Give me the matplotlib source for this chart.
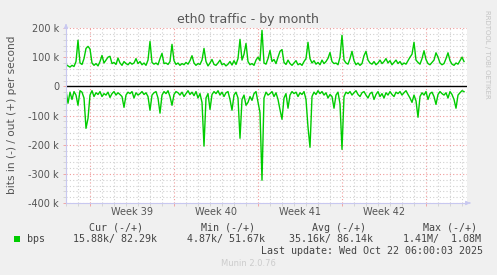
import matplotlib
matplotlib.use("Agg")
import matplotlib.pyplot as plt
import matplotlib.dates as mdates
import matplotlib.transforms as mtransforms
from matplotlib.ticker import MultipleLocator, FuncFormatter
from matplotlib.patches import Rectangle
import numpy as np
import pandas as pd

plt.rcParams.update({
    "font.family": "DejaVu Sans",
    "font.size": 7,
})

W, H = 497, 275

# 4-hour samples starting Sat 2025-09-20 00:00, values in kbit/s
start = "2025-09-20 00:00"
out_k = [
    75, 70, 66, 72, 68, 85, 158, 80, 75, 95, 130, 137, 128, 80, 72, 78, 70, 85, 106, 80,
    90, 100, 103, 78, 82, 75, 97, 80, 72, 85, 78, 74, 82, 76, 80, 95, 78, 85, 74, 80,
    72, 90, 154, 82, 76, 80, 74, 95, 113, 78, 80, 75, 85, 144, 88, 75, 80, 72, 78, 74,
    82, 76, 88, 105, 80, 72, 78, 75, 90, 130, 85, 70, 80, 92, 75, 72, 80, 90, 74, 78,
    70, 76, 85, 73, 88, 75, 95, 161, 90, 110, 147, 85, 74, 78, 72, 90, 100, 88, 192, 80,
    76, 95, 123, 85, 92, 78, 100, 120, 126, 82, 75, 90, 78, 72, 80, 88, 74, 78, 72, 85,
    95, 151, 95, 80, 88, 76, 82, 74, 90, 78, 85, 96, 116, 85, 78, 80, 74, 100, 175, 90,
    80, 76, 95, 120, 88, 74, 80, 72, 78, 105, 120, 90, 80, 76, 85, 74, 80, 90, 78, 85,
    95, 80, 88, 74, 82, 90, 78, 85, 74, 80, 76, 88, 100, 110, 151, 90, 82, 76, 95, 122,
    92, 78, 74, 82, 90, 115, 100, 80, 74, 78, 95, 115, 88, 76, 72, 80, 76, 88, 100, 85,
]
in_k = [
    15, 58, 20, 45, 18, 30, 65, 15, 20, 40, 144, 110, 30, 15, 35, 22, 28, 18, 35, 25,
    30, 20, 38, 25, 18, 30, 22, 28, 35, 72, 30, 20, 25, 18, 40, 22, 30, 25, 18, 28,
    22, 35, 82, 30, 22, 18, 40, 92, 30, 18, 25, 15, 35, 65, 28, 18, 22, 30, 20, 35,
    25, 15, 28, 20, 32, 18, 40, 25, 55, 205, 40, 25, 79, 28, 18, 25, 15, 30, 20, 35,
    22, 18, 45, 82, 30, 20, 40, 178, 45, 30, 65, 55, 35, 48, 25, 18, 55, 90, 322, 40,
    20, 30, 25, 18, 35, 22, 45, 80, 113, 40, 25, 75, 30, 18, 25, 20, 35, 22, 28, 18,
    45, 140, 209, 35, 20, 28, 15, 25, 18, 30, 22, 40, 28, 35, 75, 30, 20, 60, 216, 35,
    20, 25, 18, 30, 22, 15, 28, 35, 22, 18, 30, 40, 25, 20, 45, 28, 18, 35, 25, 40,
    22, 30, 18, 28, 35, 20, 25, 18, 30, 22, 15, 28, 40, 55, 30, 50, 106, 35, 22, 30,
    18, 45, 25, 20, 35, 62, 28, 18, 25, 30, 22, 40, 18, 28, 45, 75, 30, 22, 15, 18,
]
week_labels = ["Week 39", "Week 40", "Week 41", "Week 42"]
week_starts = ["2025-09-22", "2025-09-29", "2025-10-06", "2025-10-13"]
legend_head = ["Cur (-/+)", "Min (-/+)", "Avg (-/+)", "Max (-/+)"]
legend_vals = ["15.88k/ 82.29k", "4.87k/ 51.67k", "35.16k/ 86.14k", "1.41M/  1.08M"]

times = pd.date_range(start, periods=len(out_k), freq="4h")
out_bps = np.array(out_k) * 1000.0
in_bps = -np.array(in_k) * 1000.0

def fx(x):
    return x / W

def fy(y):
    return 1 - y / H

fig = plt.figure(figsize=(W / 100, H / 100), dpi=100, facecolor="#f0f0f0")
ax = fig.add_axes([fx(66), fy(203), 401 / W, 175 / H])
ax.set_facecolor("white")

green = "#00cc00"
ax.plot(times, out_bps, color=green, lw=1)
ax.plot(times, in_bps, color=green, lw=1)
ax.axhline(0, color="black", lw=1)

t0 = pd.Timestamp(start)
ax.set_xlim(t0, t0 + pd.Timedelta(hours=802))
ax.set_ylim(-400000, 200000)

ax.xaxis.set_major_locator(mdates.WeekdayLocator(byweekday=mdates.MO))
ax.xaxis.set_minor_locator(mdates.DayLocator())
ax.xaxis.set_major_formatter(plt.NullFormatter())
ax.yaxis.set_major_locator(MultipleLocator(100000))
ax.yaxis.set_minor_locator(MultipleLocator(20000))
ax.yaxis.set_major_formatter(FuncFormatter(lambda v, p: "0" if v == 0 else f"{int(v / 1000)} k"))

ax.set_axisbelow(True)
ax.grid(which="major", color="#f09a9a", ls=(0, (1, 2)), lw=0.8)
ax.grid(which="minor", color="#d0d0d0", ls=(0, (1, 2)), lw=0.8)

ax.tick_params(which="both", length=2, width=0.6, colors="#555555", labelsize=7, pad=3)
ax.tick_params(which="major", color="#f09a9a")
ax.tick_params(which="minor", color="#d0d0d0")

for s in ("top", "right"):
    ax.spines[s].set_visible(False)
for s in ("left", "bottom"):
    ax.spines[s].set_color("#c8c8f0")
    ax.spines[s].set_linewidth(0.8)

ax.annotate("", xy=(0, 1 + 7 / 175), xytext=(0, 1), xycoords="axes fraction",
            arrowprops=dict(arrowstyle="-|>", color="#c8c8f0", lw=0.8, mutation_scale=6))
ax.annotate("", xy=(1 + 6 / 401, 0), xytext=(1, 0), xycoords="axes fraction",
            arrowprops=dict(arrowstyle="-|>", color="#c8c8f0", lw=0.8, mutation_scale=6))

trans = mtransforms.blended_transform_factory(ax.transData, ax.transAxes)
for lab, ws in zip(week_labels, week_starts):
    mid = pd.Timestamp(ws) + pd.Timedelta(hours=84)
    ax.text(mid, -9 / 175, lab, transform=trans, ha="center", va="center",
            fontsize=7, color="#555555")

fig.text(fx(248), fy(19), "eth0 traffic - by month", ha="center", va="center",
         fontsize=9, color="#555555")
fig.text(fx(12), fy(115), "bits in (-) / out (+) per second", rotation=90,
         ha="center", va="center", fontsize=7.6, color="#555555")
fig.text(fx(487), fy(54), "RRDTOOL / TOBI OETIKER", rotation=270,
         ha="center", va="center", fontsize=5, color="#c4c4c4")

mono = "DejaVu Sans Mono"
txt = "#444444"
for lab, x in zip(legend_head, [89, 201, 312, 423]):
    fig.text(fx(x), fy(228), lab, ha="left", va="center", family=mono, fontsize=7.2, color=txt)
for val, x in zip(legend_vals, [73, 187, 289, 403]):
    fig.text(fx(x), fy(239), val, ha="left", va="center", family=mono, fontsize=7.2, color=txt)
fig.patches.append(Rectangle((fx(14), fy(242)), 6 / W, 6 / H, transform=fig.transFigure,
                             facecolor=green, edgecolor="none"))
fig.text(fx(27), fy(239), "bps", ha="left", va="center", family=mono, fontsize=7.2, color=txt)
fig.text(fx(483), fy(251), "Last update: Wed Oct 22 06:00:03 2025", ha="right", va="center",
         family=mono, fontsize=7.2, color=txt)
fig.text(fx(248), fy(264), "Munin 2.0.76", ha="center", va="center", fontsize=6, color="#cccccc")

fig.savefig("out.png", dpi=100, facecolor=fig.get_facecolor())
